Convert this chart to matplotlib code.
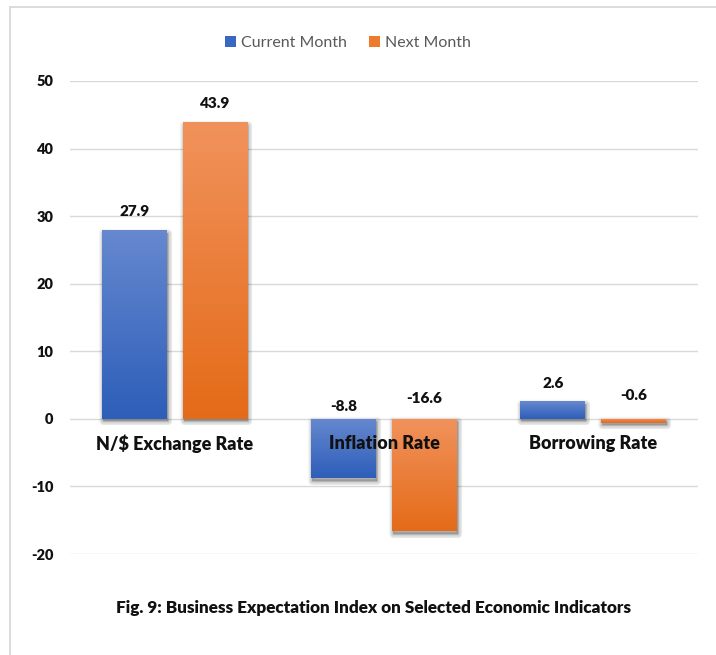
import matplotlib
matplotlib.use("Agg")
import matplotlib.pyplot as plt
import matplotlib.transforms as mtransforms
from matplotlib.colors import LinearSegmentedColormap
from matplotlib.patches import Patch, Rectangle
from matplotlib.lines import Line2D
import numpy as np

# data
categories = ["N/$ Exchange Rate", "Inflation Rate", "Borrowing Rate"]
series_names = ["Current Month", "Next Month"]
current_month = [27.9, -8.8, 2.6]
next_month = [43.9, -16.6, -0.6]
y_ticks = [-20, -10, 0, 10, 20, 30, 40, 50]
title = "Fig. 9: Business Expectation Index on Selected Economic Indicators"

# styling
plt.rcParams["font.family"] = ["Lato", "DejaVu Sans"]
plt.rcParams["axes.unicode_minus"] = False
grad_colors = [("#6688cf", "#2d5eb9"), ("#f1925c", "#e46b18")]
legend_colors = ["#3a67c2", "#ee7a2d"]
bar_width = 0.31
bar_offset = 0.193
BOLD = "heavy"

fig = plt.figure(figsize=(7.16, 6.55), dpi=100)
ax = fig.add_axes([70 / 716, 101 / 655, 628 / 716, 473 / 655])

# outer chart frame (left + top only visible in the crop)
fig.add_artist(Line2D([10 / 716, 10 / 716], [0, 1 - 7 / 655], transform=fig.transFigure,
                      color="#d9d9d9", lw=1.3))
fig.add_artist(Line2D([10 / 716, 1], [1 - 7 / 655, 1 - 7 / 655], transform=fig.transFigure,
                      color="#d9d9d9", lw=1.3))

x = np.arange(len(categories))
ax.set_xlim(-0.5, len(categories) - 0.5)
ax.set_ylim(min(y_ticks), max(y_ticks))
ax.set_yticks(y_ticks)
ax.set_xticks([])
for s in ax.spines.values():
    s.set_visible(False)
ax.grid(axis="y", color="#d9d9d9", lw=1.0, zorder=0)
ax.set_axisbelow(True)
ax.tick_params(axis="y", length=0, pad=12, labelsize=10.5)
for lbl in ax.get_yticklabels():
    lbl.set_fontweight(BOLD)
    lbl.set_color("#111111")

def shadow(ax, x0, y0, w, h):
    # soft drop shadow, mostly below the bar
    tr = mtransforms.offset_copy(ax.transData, fig=fig, x=0.7, y=-1.8, units="points")
    for i in range(6):
        r = Rectangle((x0, y0), w, h, transform=tr, facecolor="#000000", alpha=0.045,
                      lw=0.5 + i * 1.1, edgecolor="#000000", zorder=1.5)
        r.set_joinstyle("round")
        ax.add_patch(r)

label_lift = {27.9: 2.8, 43.9: 2.8, 2.6: 2.7, -8.8: 1.8, -16.6: 3.0, -0.6: 3.5}

for k, vals in enumerate([current_month, next_month]):
    cmap = LinearSegmentedColormap.from_list("g%d" % k, [grad_colors[k][0], grad_colors[k][1]])
    pos = x + (-bar_offset if k == 0 else bar_offset)
    bars = ax.bar(pos, vals, width=bar_width, color="none", lw=0, zorder=2)
    for b, v in zip(bars, vals):
        bx, by = b.get_x(), b.get_y()
        bw, bh = b.get_width(), b.get_height()
        lo, hi = min(by, by + bh), max(by, by + bh)
        shadow(ax, bx, lo, bw, hi - lo)
        grad = np.linspace(0, 1, 256).reshape(-1, 1)
        im = ax.imshow(grad, cmap=cmap, aspect="auto", extent=(bx, bx + bw, lo, hi),
                       origin="upper", zorder=2.5, interpolation="bilinear")
        im.set_clip_path(b)
        top = v if v > 0 else 0
        ax.text(b.get_x() + bw / 2, top + label_lift.get(v, 2.8), "%.1f" % v,
                ha="center", va="center", fontsize=11, fontweight=BOLD, color="#111111",
                zorder=5)

ax.set_xlim(-0.5, len(categories) - 0.5)
ax.set_ylim(min(y_ticks), max(y_ticks))

for xi, c in zip(x, categories):
    ax.annotate(c, (xi, 0), xytext=(0, -18), textcoords="offset points", ha="center",
                va="center", fontsize=13, fontweight=BOLD, color="#111111", zorder=6)

handles = [Patch(facecolor=c, edgecolor="none") for c in legend_colors]
fig.legend(handles, series_names, loc="center", bbox_to_anchor=(348 / 716, 1 - 43 / 655),
           ncol=2, frameon=False, fontsize=11.5, handlelength=0.7, handleheight=0.7,
           handletextpad=0.3, columnspacing=1.4, labelcolor="#595959")

fig.text(374 / 716, 1 - 608 / 655, title, ha="center", va="center", fontsize=12.3,
         fontweight=BOLD, color="#111111")

fig.savefig("out.png", dpi=100, facecolor="white")
